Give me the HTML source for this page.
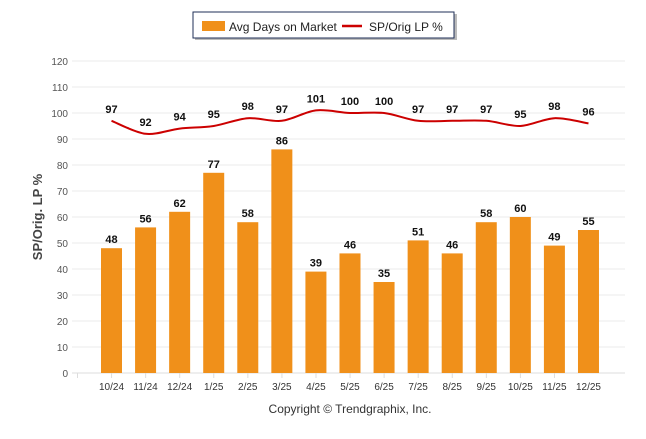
<!DOCTYPE html>
<html><head><meta charset="utf-8"><style>
body{margin:0;background:#fff;width:646px;height:434px;overflow:hidden;font-family:"Liberation Sans",sans-serif}
</style></head><body>
<svg id="c" width="646" height="434" xmlns="http://www.w3.org/2000/svg">
<g>
<rect x="195" y="14" width="262" height="26" fill="#bbb"/>
<rect x="193" y="12" width="261" height="26" fill="#fff" stroke="#1f2f57" stroke-width="1"/>
<rect x="202" y="21" width="23" height="10" fill="#f0901a"/>
<text x="229" y="31" font-size="12" fill="#222">Avg Days on Market</text>
<line x1="342" y1="26" x2="362" y2="26" stroke="#cc0000" stroke-width="2.5"/>
<text x="369" y="31" font-size="12" fill="#222">SP/Orig LP %</text>
</g>
<text transform="translate(42,217) rotate(-90)" text-anchor="middle" font-size="13" font-weight="bold" fill="#444">SP/Orig. LP %</text>
<text x="350" y="413" text-anchor="middle" font-size="12" fill="#333">Copyright © Trendgraphix, Inc.</text>
<g id="g"></g>
</svg>
<script>
const categories=["10/24","11/24","12/24","1/25","2/25","3/25","4/25","5/25","6/25","7/25","8/25","9/25","10/25","11/25","12/25"];
const daysOnMarket=[48,56,62,77,58,86,39,46,35,51,46,58,60,49,55];
const spOrigLP=[97,92,94,95,98,97,101,100,100,97,97,97,95,98,96];
const yTicks=[0,10,20,30,40,50,60,70,80,90,100,110,120];
const NS="http://www.w3.org/2000/svg",g=document.getElementById("g");
const y=v=>373-v*2.6, x=i=>111.5+i*34.07;
function mk(t,a,p){const e=document.createElementNS(NS,t);for(const k in a)e.setAttribute(k,a[k]);(p||g).appendChild(e);return e;}
yTicks.forEach(t=>{
 const l=mk("line",{x1:72,x2:625,y1:y(t),y2:y(t),stroke:t===0?"#ddd":"#ebebeb","stroke-width":1});
 
 
 const tx=mk("text",{x:68,y:y(t)+4,"text-anchor":"end","font-size":10,fill:"#555"});tx.textContent=t;
 
 
});
categories.forEach((c,i)=>{
 const tk=mk("line",{x1:x(i)-34,x2:x(i)-34,y1:373,y2:378,stroke:"#ddd"});
 
 
 const tx=mk("text",{x:x(i),y:390,"text-anchor":"middle","font-size":10,fill:"#333"});tx.textContent=c;
 
 
 const v=daysOnMarket[i];
 const b=mk("rect",{x:x(i)-10.5,y:y(v),width:21,height:y(0)-y(v),fill:"#f0901a"});
 
 
 const bl=mk("text",{x:x(i),y:y(v)-5,"text-anchor":"middle","font-size":11,"font-weight":"bold",fill:"#111"});bl.textContent=v;
 
 
});
const pts=spOrigLP.map((v,i)=>[x(i),y(v)]);
let d="M"+pts[0];
for(let i=0;i<pts.length-1;i++){
 const p0=pts[i-1]||pts[i],p1=pts[i],p2=pts[i+1],p3=pts[i+2]||p2,k=0.16;
 d+=" C"+(p1[0]+(p2[0]-p0[0])*k)+","+(p1[1]+(p2[1]-p0[1])*k)+" "+(p2[0]-(p3[0]-p1[0])*k)+","+(p2[1]-(p3[1]-p1[1])*k)+" "+p2;
}
const ln=mk("path",{d:d,fill:"none",stroke:"#cc0000","stroke-width":2});


spOrigLP.forEach((v,i)=>{
 const t=mk("text",{x:x(i),y:y(v)-8,"text-anchor":"middle","font-size":11,"font-weight":"bold",fill:"#111"});t.textContent=v;
 
 
});
</script>
</body></html>
